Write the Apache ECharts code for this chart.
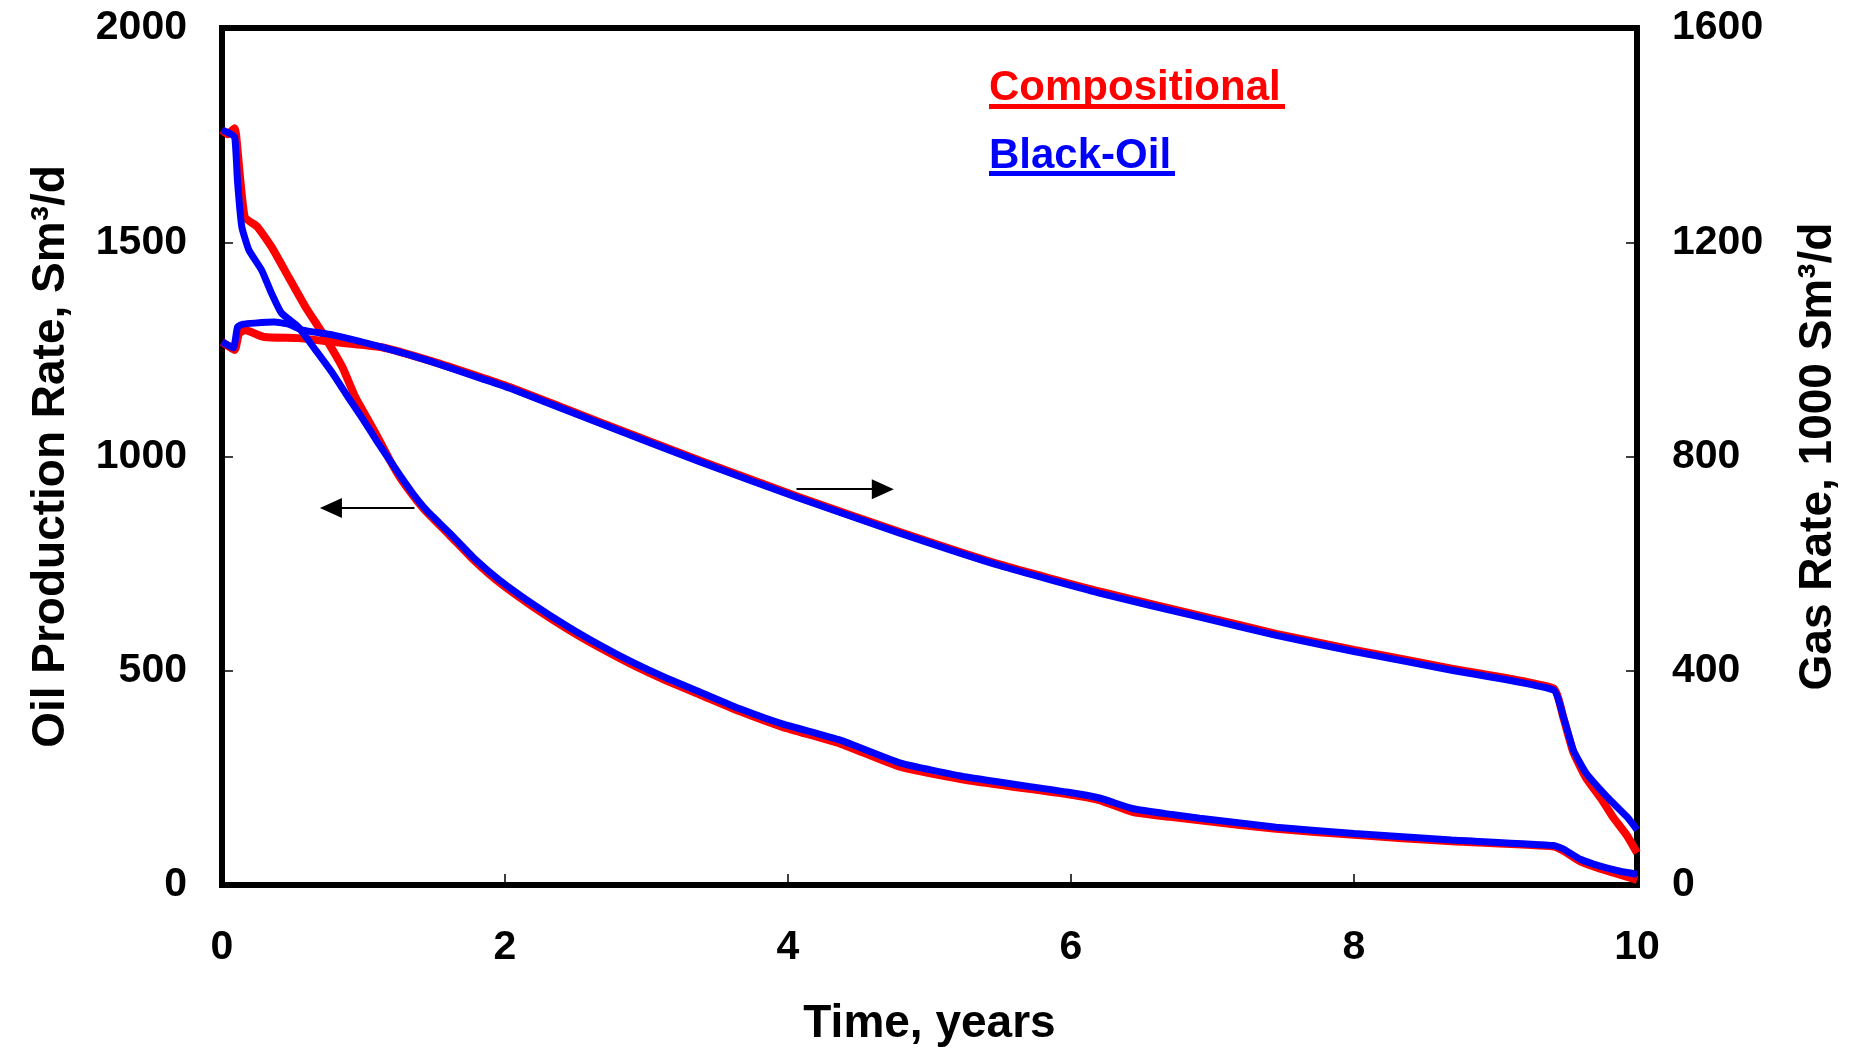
<!DOCTYPE html>
<html>
<head>
<meta charset="utf-8">
<script src="https://cdn.jsdelivr.net/npm/echarts@6/dist/echarts.min.js"></script>
<style>
html,body{margin:0;padding:0;background:#fff;}
#chart{width:1863px;height:1053px;}
</style>
</head>
<body>
<div id="chart"></div>
<script>
// ---- Data ----
// Oil production rate, Sm3/d (left axis)
var compOilT = [0, 0.04, 0.09, 0.10, 0.16, 0.25, 0.35, 0.47, 0.59, 0.71, 0.85, 0.94, 1.05, 1.1, 1.18, 1.26, 1.35, 1.45, 1.61, 1.78, 1.96, 2.2, 2.44, 2.67, 2.9, 3.14, 3.38, 3.67, 3.96, 4.37, 4.79, 5.26, 5.97, 6.2, 6.44, 6.7, 6.91, 7.45, 8.0, 8.69, 9.41, 9.48, 9.6, 9.74, 9.88, 10];
var compOil  = [1762, 1752, 1766, 1750, 1559, 1536, 1489, 1419, 1349, 1288, 1209, 1140, 1075, 1045, 995, 950, 909, 869, 816, 758, 706, 649, 598, 554, 514, 477, 444, 404, 369, 330, 276, 245, 212, 198, 170, 159, 151, 131, 117, 102, 90, 80, 55, 38, 24, 12];

var boOilT = [0, 0.05, 0.09, 0.11, 0.14, 0.19, 0.28, 0.35, 0.42, 0.54, 0.66, 0.78, 0.9, 1.0, 1.1, 1.18, 1.26, 1.35, 1.45, 1.61, 1.78, 1.96, 2.2, 2.44, 2.67, 2.9, 3.14, 3.38, 3.67, 3.96, 4.37, 4.79, 5.26, 5.97, 6.2, 6.44, 6.7, 6.91, 7.45, 8.0, 8.69, 9.41, 9.48, 9.6, 9.74, 9.88, 10];
var boOil  = [1762, 1755, 1745, 1640, 1536, 1482, 1435, 1381, 1335, 1302, 1249, 1195, 1134, 1085, 1033, 994, 955, 913, 873, 821, 763, 712, 655, 604, 560, 520, 483, 450, 410, 376, 338, 285, 252, 217, 203, 178, 165, 156, 135, 120, 105, 92, 84, 60, 44, 32, 25];

// Gas rate, 1000 Sm3/d (right axis)
var compGasT = [0, 0.09, 0.12, 0.16, 0.3, 0.54, 0.78, 1.13, 1.48, 1.84, 2.05, 2.67, 3.38, 4.08, 4.79, 5.5, 6.2, 6.91, 7.45, 8.0, 8.69, 9.41, 9.48, 9.55, 9.64, 9.75, 9.83, 9.93, 10];
var compGas  = [1014, 999, 1030, 1036, 1023, 1021, 1014, 1004, 978, 947, 928, 864, 792, 724, 659, 598, 548, 503, 469, 439, 404, 367, 312, 248, 200, 160, 127, 92, 60];

var boGasT = [0, 0.08, 0.11, 0.15, 0.23, 0.37, 0.47, 0.57, 0.78, 1.13, 1.48, 1.84, 2.05, 2.67, 3.38, 4.08, 4.79, 5.5, 6.2, 6.91, 7.45, 8.0, 8.69, 9.41, 9.48, 9.55, 9.64, 9.79, 9.93, 10];
var boGas  = [1014, 1003, 1042, 1047, 1049, 1051, 1047, 1036, 1027, 1004, 977, 945, 926, 862, 790, 722, 657, 596, 545, 500, 466, 436, 401, 364, 314, 252, 209, 164, 127, 103];

// Axis ticks
var xTicks = {min: 0, max: 10, interval: 2};
var oilTicks = {min: 0, max: 2000, interval: 500};
var gasTicks = {min: 0, max: 1600, interval: 400};

// Annotation arrows (data coordinates)
var oilArrow = {from: [1.36, 880], to: [0.77, 880]};
var gasArrow = {from: [4.06, 739], to: [4.67, 739]};

var seriesNames = ['Compositional', 'Black-Oil'];

function zip(t, v) { return t.map(function (x, i) { return [x, v[i]]; }); }
function plain(v) { return String(v); }

var FONT = "'Liberation Sans', Arial, sans-serif";
var RED = '#FF0000', BLUE = '#0000FF';

var chart = echarts.init(document.getElementById('chart'), null, {renderer: 'canvas'});

function arrowMark(a) {
  return {
    silent: true,
    symbol: ['none', 'triangle'],
    symbolSize: [20, 22],
    label: {show: false},
    lineStyle: {color: '#000', width: 2, type: 'solid'},
    emphasis: {disabled: true},
    data: [[{coord: a.from}, {coord: a.to}]]
  };
}

var lineBase = {
  type: 'line',
  showSymbol: false,
  symbol: 'none',
  smooth: 0.15,
  emphasis: {disabled: true},
  z: 2
};

var tickStyle = {show: true, inside: true, length: 11, lineStyle: {color: '#000', width: 1.5}};
var labelStyle = function (m) {
  return {fontFamily: FONT, fontWeight: 'bold', fontSize: 41, color: '#000', margin: m, formatter: plain};
};
var nameStyle = {fontFamily: FONT, fontWeight: 'bold', fontSize: 46, color: '#000'};

var option = {
  animation: false,
  backgroundColor: '#fff',
  grid: {
    left: 222, right: 226, top: 28, bottom: 168,
    show: true, borderColor: '#000', borderWidth: 6, backgroundColor: 'transparent'
  },
  xAxis: {
    type: 'value', min: xTicks.min, max: xTicks.max, interval: xTicks.interval,
    name: 'Time, years', nameLocation: 'middle', nameGap: 116,
    nameTextStyle: nameStyle,
    axisLine: {show: false},
    axisTick: tickStyle,
    axisLabel: labelStyle(42),
    splitLine: {show: false}
  },
  yAxis: [{
    type: 'value', position: 'left', min: oilTicks.min, max: oilTicks.max, interval: oilTicks.interval,
    name: 'Oil Production Rate, Sm³/d', nameLocation: 'middle', nameRotate: 90, nameGap: 148,
    nameTextStyle: nameStyle,
    axisLine: {show: false},
    axisTick: tickStyle,
    axisLabel: labelStyle(35),
    splitLine: {show: false}
  }, {
    type: 'value', position: 'right', min: gasTicks.min, max: gasTicks.max, interval: gasTicks.interval,
    name: 'Gas Rate, 1000 Sm³/d', nameLocation: 'middle', nameRotate: 90, nameGap: 158,
    nameTextStyle: nameStyle,
    axisLine: {show: false},
    axisTick: tickStyle,
    axisLabel: labelStyle(35),
    splitLine: {show: false}
  }],
  series: [
    Object.assign({}, lineBase, {
      name: seriesNames[0] + ' oil', yAxisIndex: 0, data: zip(compOilT, compOil),
      lineStyle: {color: RED, width: 8}, itemStyle: {color: RED},
      markLine: arrowMark(oilArrow)
    }),
    Object.assign({}, lineBase, {
      name: seriesNames[0] + ' gas', yAxisIndex: 1, data: zip(compGasT, compGas),
      lineStyle: {color: RED, width: 8}, itemStyle: {color: RED},
      markLine: arrowMark(gasArrow)
    }),
    Object.assign({}, lineBase, {
      name: seriesNames[1] + ' oil', yAxisIndex: 0, data: zip(boOilT, boOil),
      lineStyle: {color: BLUE, width: 7}, itemStyle: {color: BLUE}, z: 3
    }),
    Object.assign({}, lineBase, {
      name: seriesNames[1] + ' gas', yAxisIndex: 1, data: zip(boGasT, boGas),
      lineStyle: {color: BLUE, width: 7}, itemStyle: {color: BLUE}, z: 3
    })
  ],
  graphic: [
    {type: 'text', left: 989, top: 67, z: 10,
     style: {text: seriesNames[0], fill: RED, font: 'bold 42px ' + FONT}},
    {type: 'rect', left: 989, top: 104, z: 10, shape: {width: 296, height: 5}, style: {fill: RED}},
    {type: 'text', left: 989, top: 135, z: 10,
     style: {text: seriesNames[1], fill: BLUE, font: 'bold 42px ' + FONT}},
    {type: 'rect', left: 989, top: 171, z: 10, shape: {width: 186, height: 5}, style: {fill: BLUE}}
  ]
};

chart.setOption(option);
</script>
</body>
</html>
